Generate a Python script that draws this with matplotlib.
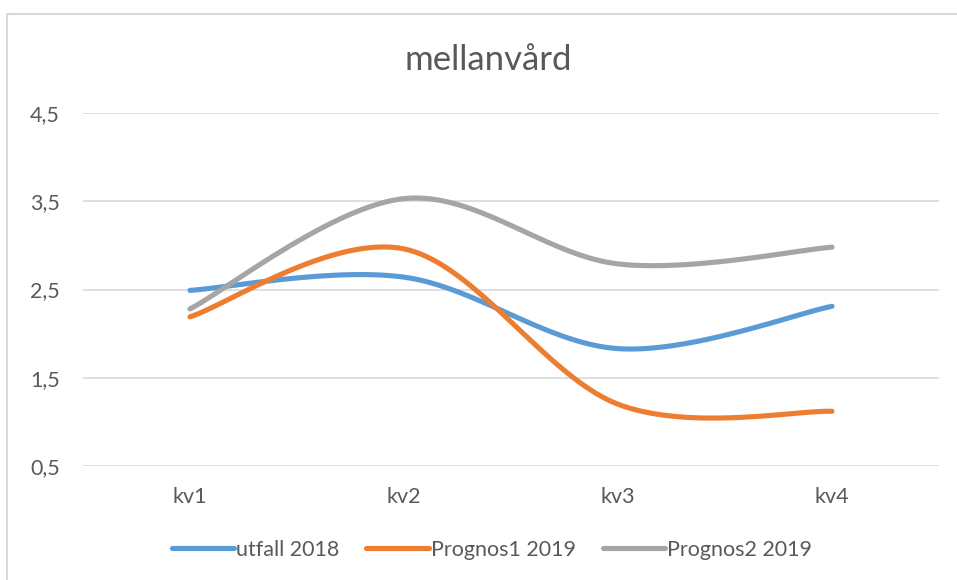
import numpy as np
import matplotlib.pyplot as plt
from matplotlib.patches import Rectangle

plt.rcParams['font.family'] = ['Lato', 'DejaVu Sans']

categories = ['kv1', 'kv2', 'kv3', 'kv4']
utfall_2018 = [2.49, 2.64, 1.83, 2.31]
prognos1_2019 = [2.19, 2.96, 1.20, 1.12]
prognos2_2019 = [2.28, 3.53, 2.79, 2.98]
y_ticks = [0.5, 1.5, 2.5, 3.5, 4.5]
y_labels = ['0,5', '1,5', '2,5', '3,5', '4,5']


def smooth(xs, ys, n=40):
    # Excel-style smoothed line: Bezier segments with Catmull-Rom control points
    p = np.column_stack([xs, ys]).astype(float)
    p = np.vstack([p[0], p, p[-1]])
    out = []
    for i in range(1, len(p) - 2):
        p0, p1, p2, p3 = p[i - 1], p[i], p[i + 1], p[i + 2]
        c1 = p1 + (p2 - p0) / 6
        c2 = p2 - (p3 - p1) / 6
        t = np.linspace(0, 1, n)[:, None]
        seg = ((1 - t) ** 3) * p1 + 3 * ((1 - t) ** 2) * t * c1 + 3 * (1 - t) * t ** 2 * c2 + t ** 3 * p2
        out.append(seg if i == 1 else seg[1:])
    out = np.vstack(out)
    return out[:, 0], out[:, 1]


fig = plt.figure(figsize=(9.57, 5.8), dpi=100)
fig.patches.append(Rectangle((7 / 957, -0.1), 2, (580 - 14) / 580 + 0.1,
                             transform=fig.transFigure, fill=False,
                             edgecolor='#D9D9D9', linewidth=1.5))

ax = fig.add_axes([83 / 957, 1 - 466 / 580, (939 - 83) / 957, (466 - 113) / 580])
x = np.arange(len(categories))
series = [('utfall 2018', utfall_2018, '#5B9BD5'),
          ('Prognos1 2019', prognos1_2019, '#ED7D31'),
          ('Prognos2 2019', prognos2_2019, '#A5A5A5')]
for label, vals, color in series:
    sx, sy = smooth(x, vals)
    ax.plot(sx, sy, color=color, linewidth=3.7, label=label, solid_capstyle='round', zorder=3)

ax.set_xlim(-0.5, 3.5)
ax.set_ylim(0.5, 4.5)
ax.set_yticks(y_ticks)
ax.set_yticklabels(y_labels)
ax.set_xticks(x)
ax.set_xticklabels(categories)
ax.tick_params(length=0, labelsize=15.5, labelcolor='#595959')
ax.tick_params(axis='y', pad=16.5)
ax.tick_params(axis='x', pad=15)
ax.grid(axis='y', color='#D9D9D9', linewidth=1.2)
for s in ax.spines.values():
    s.set_visible(False)

# title is centred on the whole chart box, not on the plot area
ax.set_title('mellanvård', fontsize=25, color='#595959', pad=31, x=(488 - 83) / 856)

fig.legend(loc='center', bbox_to_anchor=(492 / 957, 1 - 550 / 580), ncol=3, frameon=False,
           fontsize=15.5, labelcolor='#595959', handlelength=2.9, handletextpad=0.1,
           columnspacing=1.25)

fig.savefig('out.png', dpi=100)
